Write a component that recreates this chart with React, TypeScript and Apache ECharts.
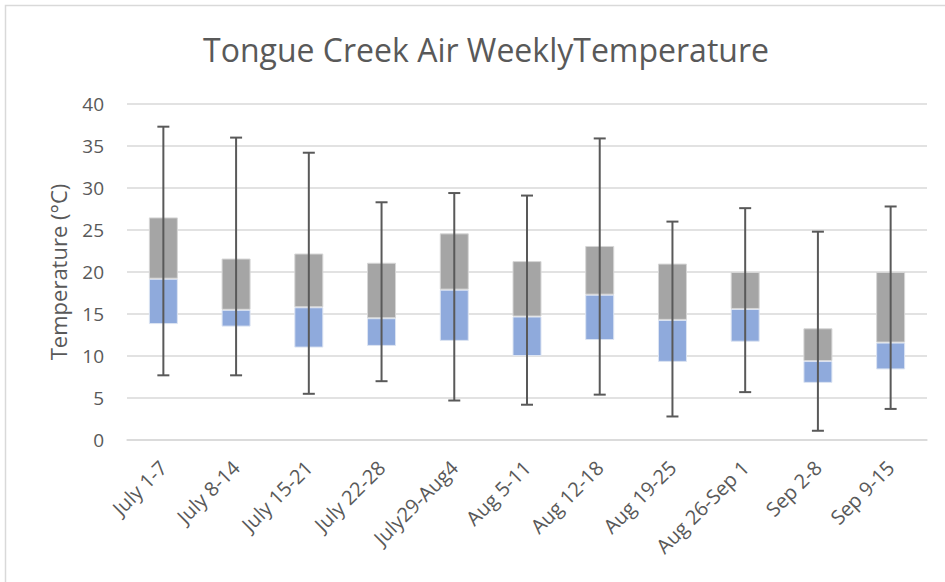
import React, { useEffect, useRef } from "react";
import * as echarts from "echarts";

const categories = ["July 1-7", "July 8-14", "July 15-21", "July 22-28", "July29-Aug4", "Aug 5-11", "Aug 12-18", "Aug 19-25", "Aug 26-Sep 1", "Sep 2-8", "Sep 9-15"];
const minValues = [7.7, 7.7, 5.5, 7.0, 4.7, 4.2, 5.4, 2.8, 5.7, 1.1, 3.7];
const q1Values = [13.8, 13.5, 11.0, 11.2, 11.8, 10.0, 11.9, 9.3, 11.7, 6.8, 8.4];
const medianValues = [19.2, 15.5, 15.8, 14.5, 17.9, 14.7, 17.3, 14.3, 15.6, 9.4, 11.6];
const q3Values = [26.5, 21.6, 22.2, 21.1, 24.6, 21.3, 23.1, 21.0, 20.0, 13.3, 20.0];
const maxValues = [37.3, 36.0, 34.2, 28.3, 29.4, 29.1, 35.9, 26.0, 27.6, 24.8, 27.8];
const yTicks = [0, 5, 10, 15, 20, 25, 30, 35, 40];

const FONT = "'Open Sans', 'Noto Sans', sans-serif";

export default function App() {
  const ref = useRef<HTMLDivElement>(null);
  useEffect(() => {
    if (!ref.current) return;
    const chart = echarts.init(ref.current, null, { renderer: "svg" });
    const lower = medianValues.map((m, i) => +(m - q1Values[i]).toFixed(2));
    const upper = q3Values.map((q, i) => +(q - medianValues[i]).toFixed(2));
    const whiskerData = categories.map((_, i) => [i, minValues[i], maxValues[i]]);
    chart.setOption({
      animation: false,
      backgroundColor: "#ffffff",
      title: {
        text: "Tongue Creek Air WeeklyTemperature",
        left: 481,
        textAlign: "center",
        top: 28,
        textStyle: { fontFamily: FONT, fontSize: 32, fontWeight: "normal", color: "#595959" },
      },
      graphic: [
        {
          type: "rect",
          shape: { x: 5.5, y: 5.5, width: 960, height: 620 },
          style: { fill: "none", stroke: "#d9d9d9", lineWidth: 1.5 },
          silent: true,
        },
      ],
      grid: { left: 127, right: 18, top: 104, bottom: 142 },
      xAxis: {
        type: "category",
        data: categories,
        axisLine: { show: true, lineStyle: { color: "#d9d9d9", width: 1.5 } },
        axisTick: { show: false },
        axisLabel: {
          rotate: 45,
          interval: 0,
          fontFamily: FONT,
          fontSize: 20,
          color: "#595959",
          margin: 24,
        },
      },
      yAxis: {
        type: "value",
        min: 0,
        max: 40,
        interval: 5,
        name: "Temperature (°C)",
        nameLocation: "middle",
        nameGap: 58,
        nameTextStyle: { fontFamily: FONT, fontSize: 22, color: "#595959" },
        axisLine: { show: false },
        axisTick: { show: false },
        splitLine: { lineStyle: { color: "#d9d9d9", width: 1.5 } },
        axisLabel: {
          fontFamily: FONT,
          fontSize: 19,
          color: "#595959",
          margin: 23,
          formatter: (v: number) => (yTicks.includes(v) ? String(v) : ""),
        },
      },
      series: [
        {
          name: "base",
          type: "bar",
          stack: "box",
          data: q1Values,
          barWidth: 29,
          itemStyle: { color: "transparent" },
          silent: true,
        },
        {
          name: "Q1-Median",
          type: "bar",
          stack: "box",
          data: lower,
          barWidth: 29,
          itemStyle: { color: "#8FAADC", borderColor: "#DCE4F2", borderWidth: 1 },
        },
        {
          name: "Median-Q3",
          type: "bar",
          stack: "box",
          data: upper,
          barWidth: 29,
          itemStyle: { color: "#A5A5A5", borderColor: "#D6D6D6", borderWidth: 1 },
        },
        {
          name: "whiskers",
          type: "custom",
          data: whiskerData,
          z: 10,
          renderItem: (params: any, api: any) => {
            const x = api.value(0);
            const lo = api.coord([x, api.value(1)]);
            const hi = api.coord([x, api.value(2)]);
            const cap = 6;
            const style = { stroke: "#595959", lineWidth: 2, fill: "none" };
            return {
              type: "group",
              children: [
                { type: "line", shape: { x1: lo[0], y1: lo[1], x2: hi[0], y2: hi[1] }, style },
                { type: "line", shape: { x1: lo[0] - cap, y1: lo[1], x2: lo[0] + cap, y2: lo[1] }, style },
                { type: "line", shape: { x1: hi[0] - cap, y1: hi[1], x2: hi[0] + cap, y2: hi[1] }, style },
              ],
            };
          },
        },
      ],
    });
    return () => chart.dispose();
  }, []);
  return (
    <div
      ref={ref}
      style={{ position: "absolute", left: 0, top: 0, width: 945, height: 582 }}
    />
  );
}
